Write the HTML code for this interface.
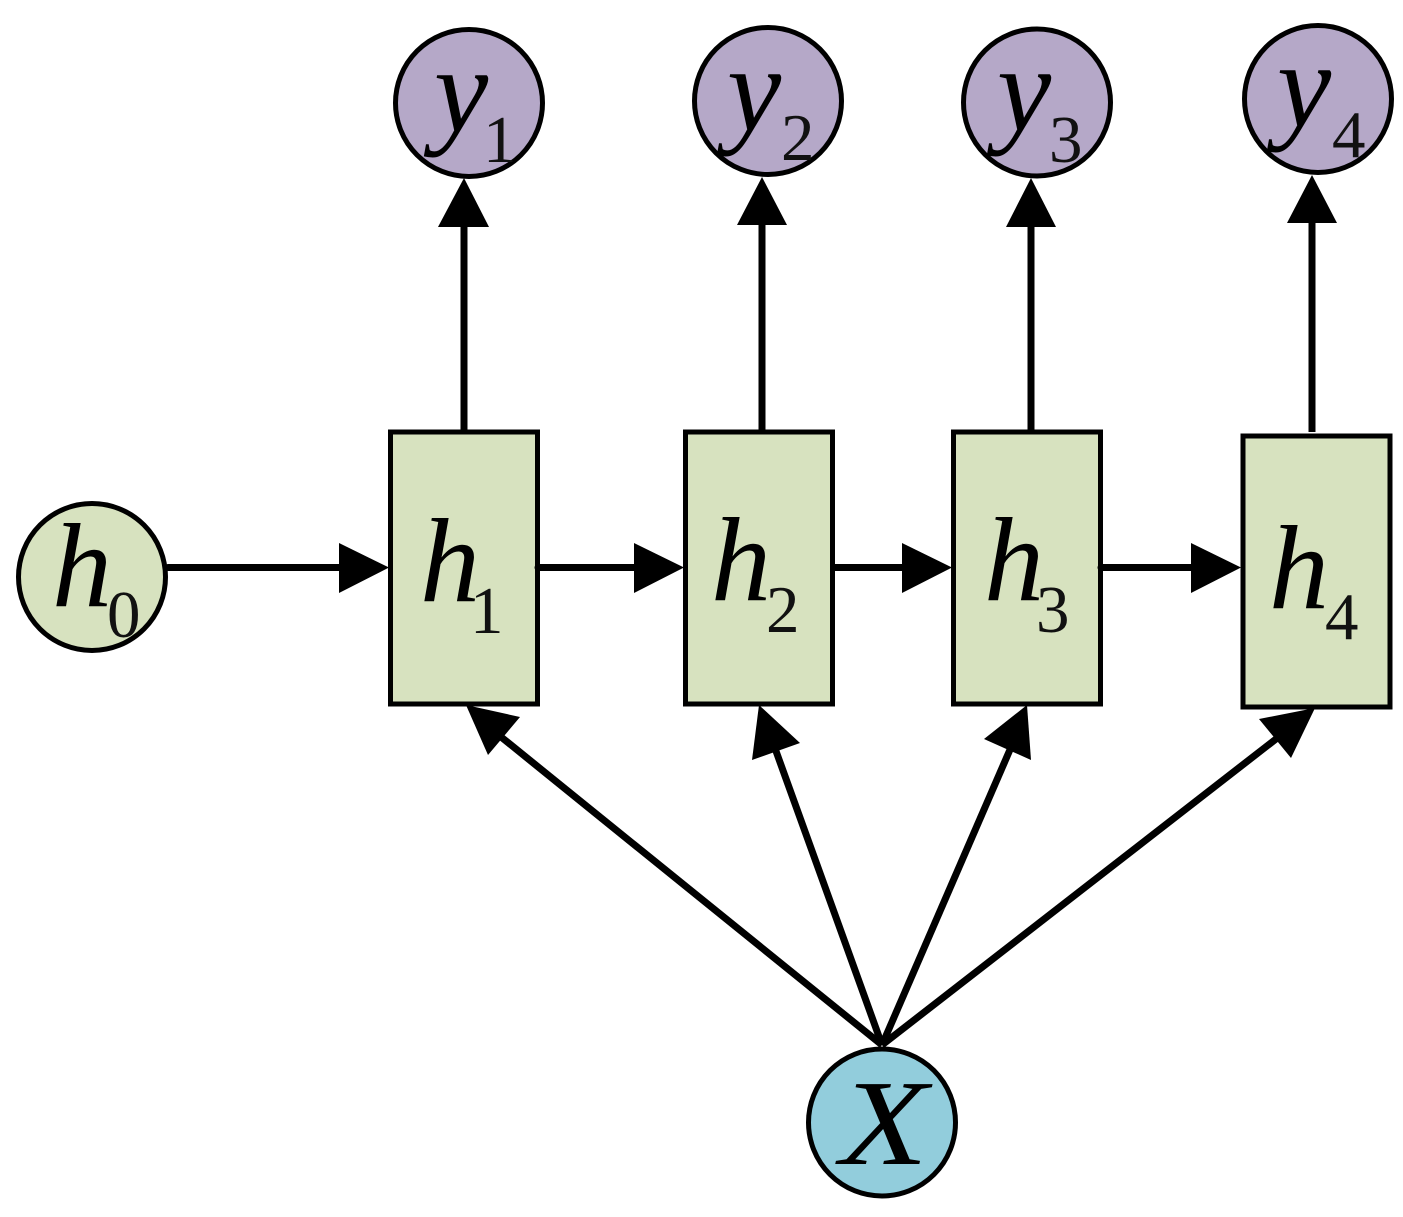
<!DOCTYPE html>
<html><head><meta charset="utf-8"><style>
html,body{margin:0;padding:0;background:#fff;width:1403px;height:1217px;overflow:hidden}
svg{display:block}
.v{font-family:"Liberation Serif",serif;font-style:italic;font-size:120px;fill:#000}
.w{font-family:"Liberation Serif",serif;font-style:italic;font-size:122px;fill:#000}
.s{font-family:"Liberation Serif",serif;font-size:67px;fill:#111}
</style></head><body>
<svg width="1403" height="1217" viewBox="0 0 1403 1217" xmlns="http://www.w3.org/2000/svg">
<g stroke="#000" stroke-width="7" fill="none">
<line x1="464" y1="432" x2="464" y2="220"/>
<line x1="762" y1="432" x2="762" y2="220"/>
<line x1="1031" y1="432" x2="1031" y2="220"/>
<line x1="1312" y1="432" x2="1312" y2="216"/>
<line x1="882" y1="1045" x2="490" y2="728"/>
<line x1="882" y1="1045" x2="772" y2="740"/>
<line x1="882" y1="1045" x2="1012" y2="745"/>
<line x1="882" y1="1045" x2="1285" y2="732"/>
</g>
<g fill="#000">
<polygon points="464,178 438,227 489,227"/>
<polygon points="762,177 737,225 787,225"/>
<polygon points="1031,178 1006,227 1056,227"/>
<polygon points="1312,175 1287,223 1337,223"/>
<polygon points="466,705 520,717 488,755"/>
<polygon points="759,705 800,743 752,760"/>
<polygon points="1027,705 1031,760 984,739"/>
<polygon points="1315,708 1291,758 1259,719"/>
</g>
<g fill="#d7e2bf" stroke="#000" stroke-width="5">
<rect x="390.5" y="432" width="147" height="272"/>
<rect x="685.5" y="432" width="147" height="272"/>
<rect x="953.5" y="432" width="147" height="272"/>
<rect x="1243" y="436" width="147" height="271"/>
<circle cx="92" cy="577" r="73.5"/>
</g>
<g fill="#b5a8c8" stroke="#000" stroke-width="5">
<circle cx="469" cy="103" r="73.5"/>
<circle cx="768" cy="101" r="73.5"/>
<circle cx="1037" cy="102.5" r="73.5"/>
<circle cx="1318" cy="99" r="73.5"/>
</g>
<circle cx="882" cy="1122.5" r="73.5" fill="#92cddc" stroke="#000" stroke-width="5"/>
<g stroke="#000" stroke-width="7" stroke-linecap="round" fill="none">
<line x1="168" y1="567.5" x2="345" y2="567.5"/>
<line x1="538" y1="567.5" x2="640" y2="567.5"/>
<line x1="834" y1="567.5" x2="908" y2="567.5"/>
<line x1="1101" y1="567.5" x2="1198" y2="567.5"/>
</g>
<g fill="#000">
<polygon points="389,567.5 339,543 339,593"/>
<polygon points="684,567.5 634,543 634,593"/>
<polygon points="952,567.5 902,543 902,593"/>
<polygon points="1241,567.5 1191,543 1191,593"/>
</g>
<text class="v" x="52" y="606">h</text><text class="s" x="107" y="637">0</text>
<text class="v" x="420" y="601">h</text><text class="s" x="470" y="633">1</text>
<text class="v" x="711" y="600">h</text><text class="s" x="766" y="632">2</text>
<text class="v" x="984" y="600">h</text><text class="s" x="1036" y="632">3</text>
<text class="v" x="1269" y="608">h</text><text class="s" x="1325" y="639">4</text>
<text class="w" x="434" y="131">y</text><text class="s" x="483" y="162">1</text>
<text class="w" x="727" y="130">y</text><text class="s" x="781" y="160">2</text>
<text class="w" x="997" y="130">y</text><text class="s" x="1049" y="162">3</text>
<text class="w" x="1277" y="126">y</text><text class="s" x="1332" y="157">4</text>
<text class="w" transform="translate(840,1164) scale(1.18,1)" x="0" y="0">X</text>
</svg>
</body></html>
